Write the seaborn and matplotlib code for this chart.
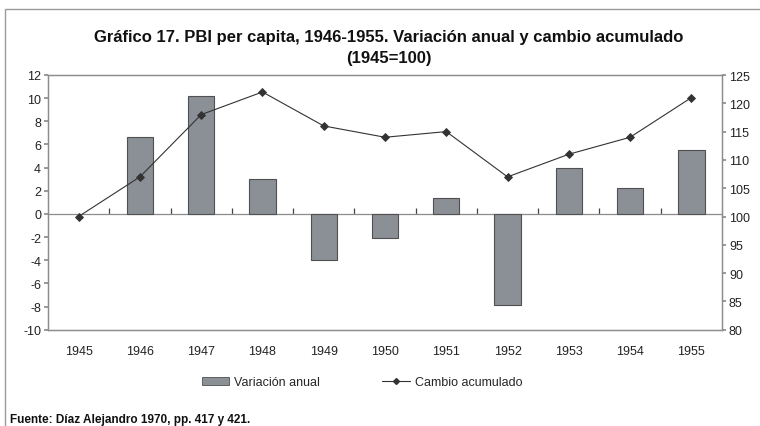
import matplotlib
matplotlib.use("Agg")
import matplotlib.pyplot as plt
import matplotlib.patches as mpatches
from matplotlib.lines import Line2D
import seaborn as sns
import pandas as pd
import numpy as np

years = ["1945", "1946", "1947", "1948", "1949", "1950", "1951", "1952", "1953", "1954", "1955"]
variacion_anual = [np.nan, 6.65, 10.2, 3.0, -4.0, -2.05, 1.4, -7.9, 4.0, 2.25, 5.5]
cambio_acumulado = [100, 107, 118, 122, 116, 114, 115, 107, 111, 114, 121]
left_ticks = [-10, -8, -6, -4, -2, 0, 2, 4, 6, 8, 10, 12]
right_ticks = [80, 85, 90, 95, 100, 105, 110, 115, 120, 125]

title = "Gráfico 17. PBI per capita, 1946-1955. Variación anual y cambio acumulado\n(1945=100)"
legend_labels = ["Variación anual", "Cambio acumulado"]
source = "Fuente: Díaz Alejandro 1970, pp. 417 y 421."

sns.set_theme(style="white")
plt.rcParams["font.family"] = ["Liberation Sans", "DejaVu Sans"]
plt.rcParams["axes.unicode_minus"] = False

df = pd.DataFrame({"year": years, "var": variacion_anual, "acc": cambio_acumulado})

fig = plt.figure(figsize=(7.6, 4.27), dpi=100)
ax = fig.add_axes([48/760, 1-330.7/427, (722-48)/760, (330.7-76)/427])

bar_color = "#8a9096"
edge_color = "#505050"
line_color = "#333333"
spine_color = "#8c8c8c"

sns.barplot(data=df, x="year", y="var", ax=ax, color=bar_color, width=0.43,
            edgecolor=edge_color, linewidth=0.8, saturation=1)
ax.set_ylim(-10, 12)
ax.set_xlim(-0.5, 10.5)
ax.set_yticks(left_ticks)
ax.set_ylabel("")
ax.set_xlabel("")
for s in ax.spines.values():
    s.set_visible(True)
    s.set_color(spine_color)
    s.set_linewidth(0.9)
ax.tick_params(axis="y", direction="out", length=3, color=spine_color, labelsize=9, pad=2,
               left=True, labelcolor="#222222")
ax.tick_params(axis="x", length=0, labelsize=9, pad=11, labelcolor="#222222")

# zero axis with category-boundary ticks
zero_frac = (0 - (-10)) / (12 - (-10))
sec = ax.secondary_xaxis(zero_frac)
sec.set_xticks(np.arange(0.5, 10.5, 1.0))
sec.set_xticklabels([])
sec.tick_params(axis="x", direction="in", length=4, color="#444444", width=0.9)
for s in sec.spines.values():
    s.set_color(spine_color)
    s.set_linewidth(0.9)

ax2 = ax.twinx()
sns.pointplot(data=df, x="year", y="acc", ax=ax2, color=line_color, markers="D",
              linestyles="-", linewidth=0.8, markersize=3.8, errorbar=None)
ax2.set_ylim(80, 125)
ax2.set_xlim(-0.5, 10.5)
ax2.set_yticks(right_ticks)
ax2.set_ylabel("")
ax2.set_xlabel("")
for s in ax2.spines.values():
    s.set_visible(True)
    s.set_color(spine_color)
    s.set_linewidth(0.9)
ax2.tick_params(axis="y", direction="out", length=3, color=spine_color, labelsize=9, pad=2,
                right=True, labelcolor="#222222")
ax2.grid(False)
ax.grid(False)

fig.text(389/760, 1-48/427, title, ha="center", va="center", fontsize=12,
         fontweight="bold", linespacing=1.45, color="#111111")

handles = [mpatches.Patch(facecolor=bar_color, edgecolor=edge_color, linewidth=0.6),
           Line2D([0], [0], color=line_color, marker="D", markersize=3, linewidth=0.8)]
fig.legend(handles, legend_labels, loc="center", bbox_to_anchor=(362/760, 1-383/427),
           ncol=2, frameon=False, fontsize=9, columnspacing=5, handlelength=2.2,
           handletextpad=0.4, handleheight=0.6)

fig.text(10/760, 1-420/427, source, ha="left", va="center", fontsize=8.5,
         fontweight="bold", color="#111111")

frame = mpatches.Rectangle((5/760, -0.2), 1.3, 1.2 - 10/427, transform=fig.transFigure,
                           fill=False, edgecolor="#9a9a9a", linewidth=1.0, clip_on=False)
fig.patches.append(frame)

fig.savefig("out.png", dpi=100)
